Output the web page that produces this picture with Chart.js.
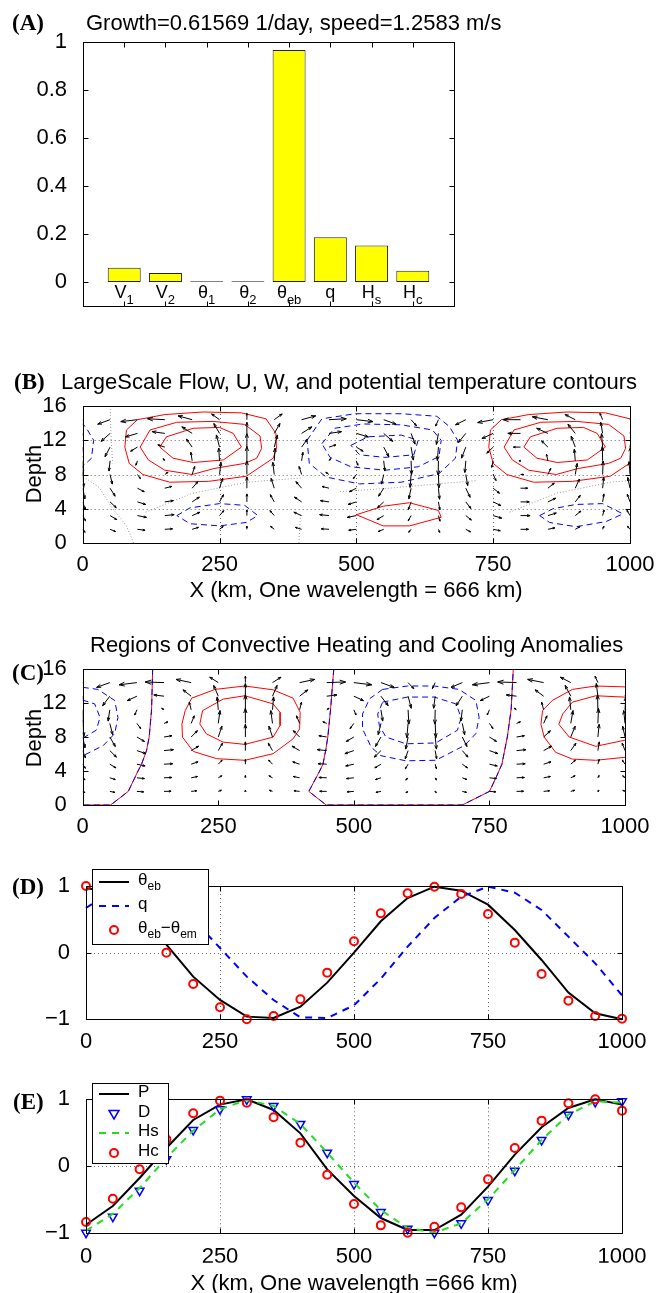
<!DOCTYPE html>
<html>
<head>
<meta charset="utf-8">
<title>Growth, flow and convective heating</title>
<script src="https://cdn.jsdelivr.net/npm/chart.js@4.4.1/dist/chart.umd.min.js"></script>
<style>
  body { margin: 0; background: #fff; }
  #fig { position: relative; width: 656px; height: 1293px; overflow: hidden; font-family: "Liberation Sans", Arial, sans-serif; }
  #fig canvas { position: absolute; left: 0; top: 0; }
  .lab { position: absolute; font-size: 22px; line-height: 22px; white-space: nowrap; color: #000; }
  .pan { position: absolute; font: bold 23px/23px "Liberation Serif", "Times New Roman", serif; color: #000; }
  .ctr { transform: translateX(-50%); }
  .rot { transform: translate(-50%, -50%) rotate(-90deg); }
</style>
</head>
<body>
<div id="fig">
  <canvas id="cA" width="656" height="1293"></canvas>
  <canvas id="cB" width="656" height="1293"></canvas>
  <canvas id="cC" width="656" height="1293"></canvas>
  <canvas id="cD" width="656" height="1293"></canvas>
  <canvas id="cE" width="656" height="1293"></canvas>

  <div class="pan" style="left:12px;top:11px">(A)</div>
  <div class="lab" style="left:86px;top:12px">Growth=0.61569 1/day, speed=1.2583 m/s</div>

  <div class="pan" style="left:14px;top:370px">(B)</div>
  <div class="lab" style="left:61px;top:371px">LargeScale Flow, U, W, and potential temperature contours</div>
  <div class="lab rot" style="left:34px;top:474px">Depth</div>
  <div class="lab ctr" style="left:356px;top:579px">X (km, One wavelength = 666 km)</div>

  <div class="lab" style="left:90px;top:634px">Regions of Convective Heating and Cooling Anomalies</div>
  <div class="pan" style="left:12px;top:661px">(C)</div>
  <div class="lab rot" style="left:34px;top:738px">Depth</div>

  <div class="pan" style="left:12px;top:875px">(D)</div>

  <div class="pan" style="left:13px;top:1090px">(E)</div>
  <div class="lab ctr" style="left:354px;top:1272px">X (km, One wavelength =666 km)</div>
</div>

<script>
Chart.defaults.font.family = "'Liberation Sans', Arial, sans-serif";
Chart.defaults.color = "#000";
Chart.defaults.animation = false;

// ---------- panel A: projection of the growing mode ----------
const barNames = ["V", "V", "θ", "θ", "θ", "q", "H", "H"];
const barSubs = ["1", "2", "1", "2", "eb", "", "s", "c"];
const barPos = [1, 2, 3, 4, 5, 6, 7, 8];
const barValues = [0.059, 0.037, 0.003, 0.003, 0.967, 0.186, 0.152, 0.047];
const barTicks = [0, 0.2, 0.4, 0.6, 0.8, 1];

// ---------- shared x grid ----------
const xKm = [0, 50, 100, 150, 200, 250, 300, 350, 400, 450, 500, 550, 600, 650, 700, 750, 800, 850, 900, 950, 1000];
const xTicks = [0, 250, 500, 750, 1000];
const depthTicks = [0, 4, 8, 12, 16];
const depthRows = [1.6, 3.2, 4.8, 6.4, 8, 9.6, 11.2, 12.8, 14.4];
const unitTicks = [-1, 0, 1];

// ---------- panel B: large scale U, W (rows bottom to top) ----------
const bU = [
  [0.15, 0.35, 0.48, 0.49, 0.4, 0.23, 0, -0.23, -0.4, -0.49, -0.48, -0.35, -0.15, 0.08, 0.3, 0.45, 0.5, 0.44, 0.29, 0.08, -0.16],
  [0.18, 0.42, 0.57, 0.59, 0.49, 0.27, 0, -0.27, -0.49, -0.59, -0.57, -0.42, -0.18, 0.1, 0.35, 0.54, 0.6, 0.53, 0.35, 0.09, -0.19],
  [0.17, 0.39, 0.52, 0.54, 0.45, 0.25, 0, -0.25, -0.45, -0.54, -0.52, -0.39, -0.17, 0.09, 0.32, 0.49, 0.55, 0.49, 0.32, 0.08, -0.17],
  [0.14, 0.32, 0.43, 0.44, 0.36, 0.2, 0, -0.2, -0.36, -0.44, -0.43, -0.32, -0.14, 0.07, 0.27, 0.4, 0.45, 0.4, 0.26, 0.07, -0.14],
  [0.06, 0.14, 0.19, 0.2, 0.16, 0.09, 0, -0.09, -0.16, -0.2, -0.19, -0.14, -0.06, 0.03, 0.12, 0.18, 0.2, 0.18, 0.12, 0.03, -0.06],
  [-0.03, -0.07, -0.1, -0.1, -0.08, -0.05, 0, 0.05, 0.08, 0.1, 0.1, 0.07, 0.03, -0.02, -0.06, -0.09, -0.1, -0.09, -0.06, -0.02, 0.03],
  [-0.14, -0.32, -0.43, -0.44, -0.36, -0.2, 0, 0.2, 0.36, 0.44, 0.43, 0.32, 0.14, -0.07, -0.27, -0.4, -0.45, -0.4, -0.26, -0.07, 0.14],
  [-0.25, -0.57, -0.76, -0.79, -0.65, -0.36, 0, 0.36, 0.65, 0.79, 0.76, 0.57, 0.25, -0.13, -0.47, -0.71, -0.8, -0.71, -0.46, -0.12, 0.26],
  [-0.34, -0.78, -1.05, -1.09, -0.89, -0.5, 0, 0.5, 0.89, 1.09, 1.05, 0.78, 0.34, -0.18, -0.65, -0.98, -1.1, -0.98, -0.64, -0.17, 0.35]
];
const bW = [
  [-0.19, -0.14, -0.06, 0.03, 0.12, 0.18, 0.2, 0.18, 0.12, 0.03, -0.06, -0.14, -0.19, -0.2, -0.16, -0.09, 0, 0.09, 0.16, 0.2, 0.19],
  [-0.33, -0.25, -0.11, 0.06, 0.21, 0.31, 0.35, 0.31, 0.21, 0.06, -0.11, -0.25, -0.33, -0.35, -0.28, -0.16, 0, 0.16, 0.28, 0.35, 0.33],
  [-0.48, -0.36, -0.16, 0.08, 0.3, 0.45, 0.5, 0.45, 0.3, 0.08, -0.16, -0.36, -0.48, -0.5, -0.41, -0.23, 0, 0.23, 0.41, 0.5, 0.48],
  [-0.67, -0.5, -0.22, 0.11, 0.41, 0.62, 0.7, 0.62, 0.41, 0.11, -0.22, -0.5, -0.67, -0.69, -0.57, -0.32, 0, 0.32, 0.57, 0.69, 0.67],
  [-0.81, -0.6, -0.26, 0.14, 0.5, 0.76, 0.85, 0.76, 0.5, 0.14, -0.26, -0.6, -0.81, -0.84, -0.69, -0.38, 0, 0.39, 0.69, 0.84, 0.81],
  [-0.86, -0.64, -0.28, 0.14, 0.53, 0.8, 0.9, 0.8, 0.53, 0.14, -0.28, -0.64, -0.86, -0.89, -0.73, -0.41, 0, 0.41, 0.73, 0.89, 0.86],
  [-0.81, -0.6, -0.26, 0.14, 0.5, 0.76, 0.85, 0.76, 0.5, 0.14, -0.26, -0.6, -0.81, -0.84, -0.69, -0.38, 0, 0.39, 0.69, 0.84, 0.81],
  [-0.67, -0.5, -0.22, 0.11, 0.41, 0.62, 0.7, 0.62, 0.41, 0.11, -0.22, -0.5, -0.67, -0.69, -0.57, -0.32, 0, 0.32, 0.57, 0.69, 0.67],
  [-0.38, -0.28, -0.12, 0.06, 0.24, 0.36, 0.4, 0.36, 0.24, 0.06, -0.12, -0.28, -0.38, -0.4, -0.32, -0.18, 0, 0.18, 0.32, 0.4, 0.38]
];
// potential temperature contours, [x km, depth]
const bWarm = [
  [[141, 11.2], [153, 12.4], [202, 13.4], [250, 13.5], [275, 12.8], [290, 11.2], [257, 9.7], [202, 9.4], [165, 9.9], [141, 11.2]],
  [[105, 11.2], [123, 13.2], [172, 14.1], [238, 14.2], [296, 13.85], [324, 12.5], [327, 11.05], [318, 9.9], [296, 9.3], [240, 8.7], [200, 8.0], [150, 8.5], [120, 9.7], [105, 11.2]],
  [[77, 11.2], [80, 13.2], [100, 14.4], [150, 15.0], [220, 15.3], [290, 15.2], [335, 14.5], [353, 12.8], [354, 11.0], [348, 9.9], [299, 7.8], [230, 7.2], [159, 7.1], [110, 8.0], [85, 9.3], [77, 11.2]],
  [[806, 11.2], [818, 12.4], [867, 13.4], [915, 13.5], [940, 12.8], [955, 11.2], [922, 9.7], [867, 9.4], [830, 9.9], [806, 11.2]],
  [[770, 11.2], [788, 13.2], [837, 14.1], [903, 14.2], [961, 13.85], [989, 12.5], [992, 11.05], [983, 9.9], [961, 9.3], [905, 8.7], [865, 8.0], [815, 8.5], [785, 9.7], [770, 11.2]],
  [[742, 11.2], [745, 13.2], [765, 14.4], [815, 15.0], [885, 15.3], [955, 15.2], [1000, 14.5], [1018, 12.8], [1019, 11.0], [1013, 9.9], [964, 7.8], [895, 7.2], [824, 7.1], [775, 8.0], [750, 9.3], [742, 11.2]],
  [[500, 3.3], [549, 4.3], [597, 4.7], [650, 3.8], [655, 3.0], [597, 2.0], [549, 2.0], [500, 3.3]]
];
const bCold = [
  [[410, 12], [437, 14.5], [498, 15.1], [582, 15.1], [647, 14.8], [670, 13.6], [685, 12], [681, 9.9], [651, 8.1], [582, 7.1], [506, 6.9], [445, 7.7], [414, 9.3], [410, 12]],
  [[437, 11.6], [460, 13.4], [513, 13.9], [582, 13.8], [639, 13.2], [655, 12], [651, 10.1], [613, 8.9], [552, 8.5], [490, 8.9], [452, 10], [437, 11.6]],
  [[490, 11.4], [521, 12.4], [582, 12.6], [613, 12], [605, 10.3], [552, 10.0], [506, 10.3], [490, 11.4]],
  [[-18, 14.8], [5, 13.6], [20, 12], [16, 9.9], [-14, 8.1]],
  [[172, 3.2], [196, 4.1], [250, 4.6], [296, 4.4], [320, 3.2], [299, 2.4], [250, 2.0], [196, 2.25], [172, 3.2]],
  [[835, 3.2], [859, 4.0], [901, 4.5], [950, 4.6], [987, 3.4], [956, 2.5], [901, 1.9], [853, 2.4], [835, 3.2]]
];
const bZero = [
  [[93, 0], [80, 2], [55, 4], [30, 6.5], [0, 7.8]],
  [[115, 3.6], [200, 5.8], [300, 7.1], [400, 7.6]],
  [[470, 6.0], [560, 6.4], [650, 6.9], [720, 7.3]],
  [[780, 3.6], [865, 5.8], [965, 7.1], [1000, 7.3]],
  [[50, 16], [52, 12], [55, 9.3]],
  [[395, 0], [398, 3.5]]
];

// ---------- panel C: convective heating flow ----------
const cU = [
  [0.14, 0.32, 0.43, 0.45, 0.36, 0.2, 0, -0.2, -0.36, -0.45, -0.43, -0.32, -0.14, 0.07, 0.27, 0.41, 0.45, 0.38, 0.25, 0.07, -0.14],
  [0.15, 0.35, 0.48, 0.5, 0.4, 0.23, 0, -0.23, -0.4, -0.5, -0.48, -0.35, -0.15, 0.08, 0.3, 0.45, 0.5, 0.43, 0.28, 0.08, -0.15],
  [0.17, 0.39, 0.52, 0.55, 0.44, 0.25, 0, -0.25, -0.44, -0.55, -0.52, -0.39, -0.17, 0.08, 0.33, 0.5, 0.55, 0.47, 0.3, 0.08, -0.17],
  [0.18, 0.42, 0.57, 0.6, 0.48, 0.27, 0, -0.27, -0.48, -0.6, -0.57, -0.42, -0.18, 0.09, 0.36, 0.54, 0.6, 0.51, 0.33, 0.09, -0.18],
  [0.15, 0.35, 0.48, 0.5, 0.4, 0.23, 0, -0.23, -0.4, -0.5, -0.48, -0.35, -0.15, 0.08, 0.3, 0.45, 0.5, 0.43, 0.28, 0.08, -0.15],
  [0.08, 0.18, 0.24, 0.25, 0.2, 0.11, 0, -0.11, -0.2, -0.25, -0.24, -0.18, -0.08, 0.04, 0.15, 0.23, 0.25, 0.21, 0.14, 0.04, -0.08],
  [-0.05, -0.11, -0.14, -0.15, -0.12, -0.07, 0, 0.07, 0.12, 0.15, 0.14, 0.11, 0.05, -0.02, -0.09, -0.14, -0.15, -0.13, -0.08, -0.02, 0.05],
  [-0.2, -0.46, -0.62, -0.65, -0.52, -0.29, 0, 0.29, 0.52, 0.65, 0.62, 0.46, 0.2, -0.1, -0.39, -0.59, -0.65, -0.55, -0.36, -0.1, 0.2],
  [-0.36, -0.84, -1.14, -1.2, -0.96, -0.54, 0, 0.54, 0.96, 1.2, 1.14, 0.84, 0.36, -0.18, -0.72, -1.08, -1.2, -1.02, -0.66, -0.18, 0.36]
];
const cW = [
  [-0.07, -0.06, -0.03, 0.01, 0.04, 0.07, 0.08, 0.07, 0.04, 0.01, -0.03, -0.06, -0.08, -0.08, -0.06, -0.03, 0.01, 0.04, 0.07, 0.08, 0.07],
  [-0.13, -0.11, -0.05, 0.02, 0.08, 0.13, 0.15, 0.13, 0.08, 0.02, -0.05, -0.11, -0.14, -0.14, -0.11, -0.05, 0.02, 0.08, 0.13, 0.15, 0.13],
  [-0.26, -0.23, -0.11, 0.03, 0.15, 0.26, 0.3, 0.26, 0.15, 0.03, -0.11, -0.23, -0.29, -0.29, -0.23, -0.11, 0.03, 0.15, 0.26, 0.3, 0.26],
  [-0.47, -0.41, -0.19, 0.06, 0.28, 0.47, 0.55, 0.47, 0.28, 0.06, -0.19, -0.41, -0.52, -0.52, -0.41, -0.19, 0.06, 0.28, 0.47, 0.55, 0.47],
  [-0.68, -0.6, -0.28, 0.08, 0.4, 0.68, 0.8, 0.68, 0.4, 0.08, -0.28, -0.6, -0.76, -0.76, -0.6, -0.28, 0.08, 0.4, 0.68, 0.8, 0.68],
  [-0.81, -0.71, -0.33, 0.1, 0.48, 0.81, 0.95, 0.81, 0.48, 0.1, -0.33, -0.71, -0.9, -0.9, -0.71, -0.33, 0.1, 0.48, 0.81, 0.95, 0.81],
  [-0.81, -0.71, -0.33, 0.1, 0.48, 0.81, 0.95, 0.81, 0.48, 0.1, -0.33, -0.71, -0.9, -0.9, -0.71, -0.33, 0.1, 0.48, 0.81, 0.95, 0.81],
  [-0.68, -0.6, -0.28, 0.08, 0.4, 0.68, 0.8, 0.68, 0.4, 0.08, -0.28, -0.6, -0.76, -0.76, -0.6, -0.28, 0.08, 0.4, 0.68, 0.8, 0.68],
  [-0.34, -0.3, -0.14, 0.04, 0.2, 0.34, 0.4, 0.34, 0.2, 0.04, -0.14, -0.3, -0.38, -0.38, -0.3, -0.14, 0.04, 0.2, 0.34, 0.4, 0.34]
];
const cHeat = [
  [[299, 14.0], [351, 13.55], [388, 12.57], [401, 10.9], [400, 8.95], [388, 7.79], [351, 6.03], [299, 5.26], [247, 5.45], [204, 6.3], [184, 7.98], [183, 9.54], [189, 11.1], [201, 12.57], [244, 13.6], [299, 14.0]],
  [[299, 12.85], [351, 11.9], [364, 10.9], [364, 9.35], [351, 7.98], [299, 7.13], [259, 7.4], [228, 8.37], [216, 9.54], [221, 11.1], [259, 12.46], [299, 12.85]],
  [[1050, 13.55], [998, 13.9], [946, 14.0], [903, 13.6], [866, 12.3], [848, 11.1], [845, 9.5], [851, 8.0], [872, 6.2], [903, 5.4], [946, 5.26], [998, 5.6], [1050, 6.0]],
  [[1040, 11.9], [998, 12.7], [946, 12.85], [903, 12.1], [885, 10.7], [878, 9.5], [897, 8.0], [946, 6.9], [998, 7.6], [1030, 8.0]]
];
const cCool = [
  [[553, 13.6], [599, 14.0], [648, 14.0], [694, 13.6], [725, 12.3], [731, 10.3], [725, 8.4], [704, 7.0], [651, 5.26], [596, 5.2], [550, 5.8], [532, 6.8], [516, 8.95], [516, 10.7], [529, 12.5], [553, 13.6]],
  [[553, 12.1], [599, 12.7], [648, 12.7], [688, 11.9], [698, 10.3], [691, 8.8], [651, 7.3], [596, 7.2], [559, 8.0], [547, 9.35], [544, 10.7], [553, 12.1]],
  [[-18, 14.0], [28, 13.6], [59, 12.3], [65, 10.3], [59, 8.4], [38, 7.0], [-15, 5.3]],
  [[-18, 12.7], [22, 11.9], [32, 10.3], [25, 8.8], [-15, 7.3]]
];
const cEdge = [
  [[129, 16], [127, 11.2], [122.6, 8], [117.7, 6.4], [108.5, 4.8], [102, 4.0], [84, 1.6], [51.5, 0], [0, 0]],
  [[463, 16], [457, 11.2], [452, 8], [448, 6.4], [443, 4.8], [437, 4], [417, 1.6], [449, 0], [700, 0], [750, 1.6], [762, 3.2], [773, 4.8], [783, 8], [790, 11.2], [794, 16]]
];

// ---------- panel D ----------
const thetaEb = [0.97, 0.9, 0.6, 0.12, -0.36, -0.71, -0.96, -0.98, -0.81, -0.45, 0.0, 0.47, 0.82, 0.99, 0.93, 0.72, 0.34, -0.11, -0.6, -0.91, -1.0];
const qMoist = [0.67, 0.93, 0.99, 0.82, 0.5, 0.07, -0.36, -0.71, -0.97, -0.98, -0.79, -0.39, 0.09, 0.52, 0.84, 0.99, 0.9, 0.64, 0.24, -0.16, -0.64];
const thetaDiff = [1.0, 0.87, 0.52, 0.0, -0.47, -0.82, -1.0, -0.95, -0.7, -0.3, 0.17, 0.59, 0.89, 0.99, 0.88, 0.58, 0.15, -0.32, -0.72, -0.95, -0.99];

// ---------- panel E ----------
const eP = [-0.88, -0.6, -0.18, 0.27, 0.69, 0.92, 1.0, 0.84, 0.49, -0.05, -0.45, -0.78, -0.96, -0.96, -0.73, -0.31, 0.17, 0.58, 0.87, 1.0, 0.92];
const eD = [-1.0, -0.76, -0.37, 0.1, 0.54, 0.85, 1.0, 0.9, 0.63, 0.2, -0.27, -0.69, -0.94, -1.0, -0.86, -0.51, -0.07, 0.39, 0.77, 0.96, 0.97];
const eHs = [-0.97, -0.72, -0.33, 0.12, 0.53, 0.85, 0.99, 0.9, 0.63, 0.2, -0.25, -0.66, -0.93, -1.0, -0.86, -0.5, -0.06, 0.39, 0.77, 0.97, 0.95];
const eHc = [-0.84, -0.49, -0.05, 0.4, 0.79, 0.98, 0.95, 0.73, 0.35, -0.13, -0.57, -0.89, -1.0, -0.91, -0.62, -0.2, 0.27, 0.68, 0.94, 1.0, 0.83];

// ---------- layout helpers ----------
const PAGE_W = 656, PAGE_H = 1293, Y_W = 50, X_H = 30;
const ARROW_KM = 29, ARROW_DEPTH = 1.87;
const FONT = "'Liberation Sans', Arial, sans-serif";

const fmt = v => (v < 0 ? "\u2212" + Math.abs(v) : String(v));
const xy = (xs, ys) => xs.map((x, i) => ({ x: x, y: ys[i] }));
const pairs = p => p.map(([x, y]) => ({ x: x, y: y }));

function padFor(l, t, r, b, xh) {
    return { left: l - Y_W, top: t, right: PAGE_W - r, bottom: PAGE_H - b - xh };
}

function axis(min, max, ticks, isX, show, pad) {
    return {
        type: "linear", min: min, max: max, offset: false, display: show,
        grid: { display: false }, border: { display: false },
        ticks: { font: { size: 22 }, padding: pad, autoSkip: false, maxRotation: 0, minRotation: 0, callback: v => fmt(v) },
        afterBuildTicks: s => { s.ticks = ticks.map(v => ({ value: v })); },
        afterFit: s => { if (isX) s.height = X_H; else s.width = Y_W; }
    };
}

function framePlugin(tx, ty, gx, gy) {
    return {
        id: "frame",
        beforeDatasetsDraw(chart) {
            if (!gx && !gy) return;
            const { ctx, chartArea: a, scales } = chart;
            ctx.save();
            ctx.strokeStyle = "#666";
            ctx.lineWidth = 1;
            ctx.setLineDash([1, 3]);
            ctx.beginPath();
            (gx || []).forEach(v => {
                const p = Math.round(scales.x.getPixelForValue(v)) + 0.5;
                ctx.moveTo(p, a.top); ctx.lineTo(p, a.bottom);
            });
            (gy || []).forEach(v => {
                const p = Math.round(scales.y.getPixelForValue(v)) + 0.5;
                ctx.moveTo(a.left, p); ctx.lineTo(a.right, p);
            });
            ctx.stroke();
            ctx.restore();
        },
        afterDatasetsDraw(chart) {
            const { ctx, chartArea: a, scales } = chart;
            const L = Math.round(a.left) + 0.5, R = Math.round(a.right) + 0.5;
            const T = Math.round(a.top) + 0.5, B = Math.round(a.bottom) + 0.5;
            ctx.save();
            ctx.strokeStyle = "#000";
            ctx.lineWidth = 1;
            ctx.setLineDash([]);
            ctx.strokeRect(L, T, R - L, B - T);
            ctx.beginPath();
            tx.forEach(v => {
                const p = Math.round(scales.x.getPixelForValue(v)) + 0.5;
                ctx.moveTo(p, B); ctx.lineTo(p, B - 5);
                ctx.moveTo(p, T); ctx.lineTo(p, T + 5);
            });
            ty.forEach(v => {
                const p = Math.round(scales.y.getPixelForValue(v)) + 0.5;
                ctx.moveTo(L, p); ctx.lineTo(L + 5, p);
                ctx.moveTo(R, p); ctx.lineTo(R - 5, p);
            });
            ctx.stroke();
            ctx.restore();
        }
    };
}

function quiverPlugin(cols, rows, U, Wv) {
    return {
        id: "quiver",
        afterDatasetsDraw(chart) {
            const { ctx, chartArea: a, scales: { x, y } } = chart;
            ctx.save();
            ctx.beginPath();
            ctx.rect(a.left, a.top, a.right - a.left, a.bottom - a.top);
            ctx.clip();
            ctx.strokeStyle = "#000";
            ctx.lineWidth = 1;
            ctx.beginPath();
            rows.forEach((z, r) => cols.forEach((xv, c) => {
                const x0 = x.getPixelForValue(xv), y0 = y.getPixelForValue(z);
                const x1 = x.getPixelForValue(xv + U[r][c] * ARROW_KM);
                const y1 = y.getPixelForValue(z + Wv[r][c] * ARROW_DEPTH);
                const len = Math.hypot(x1 - x0, y1 - y0);
                if (len < 0.6) return;
                const ang = Math.atan2(y1 - y0, x1 - x0), h = Math.max(2, len * 0.33);
                ctx.moveTo(x0, y0); ctx.lineTo(x1, y1);
                ctx.moveTo(x1 - h * Math.cos(ang - 0.33), y1 - h * Math.sin(ang - 0.33));
                ctx.lineTo(x1, y1);
                ctx.lineTo(x1 - h * Math.cos(ang + 0.33), y1 - h * Math.sin(ang + 0.33));
            }));
            ctx.stroke();
            ctx.restore();
        }
    };
}

// text with subscripts: parts = [[text, isSub], ...]
function subText(ctx, parts, x, y, size, center) {
    const sub = Math.round(size * 0.72);
    let w = 0;
    parts.forEach(([t, s]) => { ctx.font = (s ? sub : size) + "px " + FONT; w += ctx.measureText(t).width; });
    let cx = center ? x - w / 2 : x;
    ctx.textAlign = "left";
    ctx.textBaseline = "middle";
    ctx.fillStyle = "#000";
    parts.forEach(([t, s]) => {
        ctx.font = (s ? sub : size) + "px " + FONT;
        ctx.fillText(t, cx, s ? y + size * 0.42 : y);
        cx += ctx.measureText(t).width;
    });
}

function drawSample(ctx, kind, color, cx, y) {
    ctx.save();
    ctx.strokeStyle = color;
    ctx.lineWidth = 2;
    if (kind === "line" || kind === "dash") {
        ctx.setLineDash(kind === "dash" ? [7, 6] : []);
        ctx.beginPath(); ctx.moveTo(cx - 15, y); ctx.lineTo(cx + 15, y); ctx.stroke();
    } else if (kind === "circle") {
        ctx.beginPath(); ctx.arc(cx, y, 4, 0, Math.PI * 2); ctx.stroke();
    } else {
        ctx.lineWidth = 1.5;
        ctx.beginPath(); ctx.moveTo(cx - 5, y - 3.5); ctx.lineTo(cx + 5, y - 3.5); ctx.lineTo(cx, y + 5); ctx.closePath(); ctx.stroke();
    }
    ctx.restore();
}

function legendPlugin(boxArea, entries, size) {
    return {
        id: "legendBox",
        afterDraw(chart) {
            const ctx = chart.ctx;
            const [l, t, r, b] = boxArea;
            ctx.save();
            ctx.fillStyle = "#fff";
            ctx.fillRect(l, t, r - l, b - t);
            ctx.strokeStyle = "#000";
            ctx.lineWidth = 1;
            ctx.strokeRect(l + 0.5, t + 0.5, r - l, b - t);
            entries.forEach(e => {
                drawSample(ctx, e.kind, e.color, 114, e.y);
                subText(ctx, e.parts, 138, e.y - 2, size, false);
            });
            ctx.restore();
        }
    };
}

function contourSet(list, color, dash, width) {
    return list.map(p => ({
        data: pairs(p), showLine: true, pointRadius: 0, borderColor: color,
        borderWidth: width || 1, borderDash: dash, fill: false, tension: 0
    }));
}

const baseOptions = (padding, xAxis, yAxis) => ({
    responsive: false, animation: false, devicePixelRatio: 1,
    layout: { padding: padding },
    plugins: { legend: { display: false }, tooltip: { enabled: false } },
    scales: { x: xAxis, y: yAxis }
});

// ---------- A ----------
new Chart(document.getElementById("cA"), {
    type: "bar",
    data: {
        datasets: [{
            data: xy(barPos, barValues),
            backgroundColor: "#ffff00", borderColor: "#222", borderWidth: 1,
            borderSkipped: false, barPercentage: 1, categoryPercentage: 0.8
        }]
    },
    options: baseOptions(padFor(83, 42, 454, 336, 0),
        axis(0, 9, barPos, true, false, 0),
        axis(-0.1, 1, barTicks, false, true, 8)),
    plugins: [framePlugin(barPos, barTicks), {
        id: "barNames",
        afterDraw(chart) {
            const { ctx, scales: { x, y } } = chart;
            const yc = y.getPixelForValue(-0.046);
            barPos.forEach((p, i) => {
                const parts = [[barNames[i], false]];
                if (barSubs[i]) parts.push([barSubs[i], true]);
                subText(ctx, parts, x.getPixelForValue(p), yc, 18, true);
            });
        }
    }]
});

// ---------- B ----------
new Chart(document.getElementById("cB"), {
    type: "scatter",
    data: {
        datasets: [].concat(
            contourSet(bZero, "#9a9a9a", [1, 2]),
            contourSet(bWarm, "#ff0000", []),
            contourSet(bCold, "#0000ff", [6, 4])
        )
    },
    options: baseOptions(padFor(82.7, 406, 630, 543, X_H),
        axis(0, 1000, xTicks, true, true, 1),
        axis(0, 16, depthTicks, false, true, 8)),
    plugins: [framePlugin(xTicks, depthTicks, [250, 500, 750], [4, 8, 12]), quiverPlugin(xKm, depthRows, bU, bW)]
});

// ---------- C ----------
new Chart(document.getElementById("cC"), {
    type: "scatter",
    data: {
        datasets: [].concat(
            contourSet(cHeat, "#ff0000", []),
            contourSet(cCool, "#0000ff", [6, 4]),
            contourSet(cEdge, "#ff0000", []).map(d => Object.assign(d, { order: 2 })),
            contourSet(cEdge, "#0000ff", [6, 4]).map(d => Object.assign(d, { order: 1 }))
        )
    },
    options: baseOptions(padFor(82.7, 669, 625, 805, X_H),
        axis(0, 1000, xTicks, true, true, 1),
        axis(0, 16, depthTicks, false, true, 8)),
    plugins: [framePlugin(xTicks, depthTicks), quiverPlugin(xKm, depthRows, cU, cW)]
});

// ---------- D ----------
new Chart(document.getElementById("cD"), {
    type: "scatter",
    data: {
        datasets: [
            { data: xy(xKm, thetaEb), showLine: true, pointRadius: 0, borderColor: "#000", borderWidth: 2, clip: false, order: 3 },
            { data: xy(xKm, qMoist), showLine: true, pointRadius: 0, borderColor: "#0000ff", borderWidth: 2, borderDash: [7, 6], clip: false, order: 2 },
            { data: xy(xKm, thetaDiff), showLine: false, pointStyle: "circle", pointRadius: 4, pointBorderWidth: 2,
              borderColor: "#ff0000", backgroundColor: "rgba(0,0,0,0)", clip: false, order: 1 }
        ]
    },
    options: baseOptions(padFor(86, 886, 622, 1019.3, X_H),
        axis(0, 1000, xTicks, true, true, 1),
        axis(-1, 1, unitTicks, false, true, 8)),
    plugins: [framePlugin(xTicks, unitTicks, [250, 500, 750], [0]),
        legendPlugin([92, 869, 208, 944], [
            { kind: "line", color: "#000", y: 882, parts: [["θ", false], ["eb", true]] },
            { kind: "dash", color: "#0000ff", y: 906, parts: [["q", false]] },
            { kind: "circle", color: "#ff0000", y: 930, parts: [["θ", false], ["eb", true], ["\u2212θ", false], ["em", true]] }
        ], 17)]
});

// ---------- E ----------
new Chart(document.getElementById("cE"), {
    type: "scatter",
    data: {
        datasets: [
            { data: xy(xKm, eP), showLine: true, pointRadius: 0, borderColor: "#000", borderWidth: 2, clip: false, order: 4 },
            { data: xy(xKm, eD), showLine: false, pointStyle: "triangle", pointRotation: 180, pointRadius: 5, pointBorderWidth: 1.5,
              borderColor: "#0000ff", backgroundColor: "rgba(0,0,0,0)", clip: false, order: 3 },
            { data: xy(xKm, eHs), showLine: true, pointRadius: 0, borderColor: "#22dd22", borderWidth: 2, borderDash: [7, 6], clip: false, order: 2 },
            { data: xy(xKm, eHc), showLine: false, pointStyle: "circle", pointRadius: 4, pointBorderWidth: 2,
              borderColor: "#ff0000", backgroundColor: "rgba(0,0,0,0)", clip: false, order: 1 }
        ]
    },
    options: baseOptions(padFor(86, 1099.3, 622, 1232.7, X_H),
        axis(0, 1000, xTicks, true, true, 3),
        axis(-1, 1, unitTicks, false, true, 8)),
    plugins: [framePlugin(xTicks, unitTicks, [250, 500, 750], [0]),
        legendPlugin([92, 1083, 168, 1163], [
            { kind: "line", color: "#000", y: 1094, parts: [["P", false]] },
            { kind: "tri", color: "#0000ff", y: 1114, parts: [["D", false]] },
            { kind: "dash", color: "#22dd22", y: 1133, parts: [["Hs", false]] },
            { kind: "circle", color: "#ff0000", y: 1153, parts: [["Hc", false]] }
        ], 17)]
});
</script>
</body>
</html>
